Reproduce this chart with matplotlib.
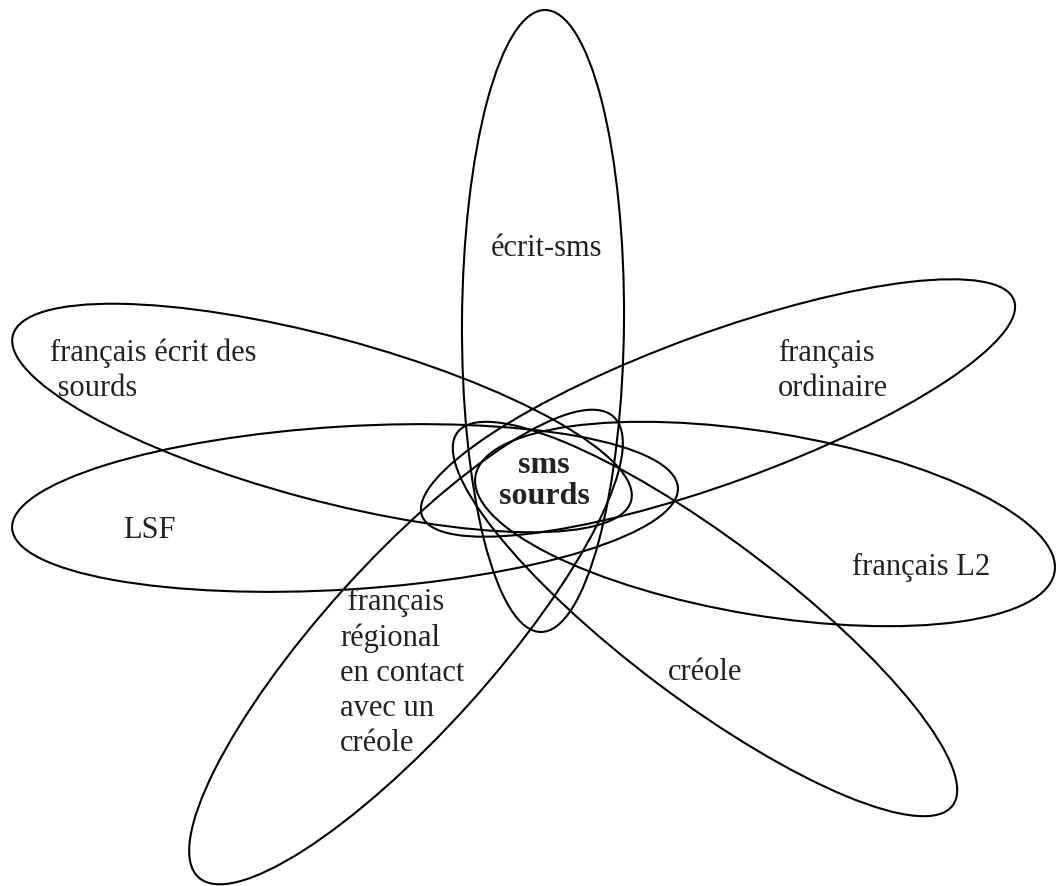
import matplotlib
matplotlib.use("Agg")
import matplotlib.pyplot as plt
from matplotlib.patches import Ellipse

# Petals: centre (pixel coords, y down), length, width, tilt in degrees
petal_names = ["écrit-sms", "français écrit des sourds", "LSF", "français ordinaire",
               "français L2", "créole", "français régional"]
petal_cx = [543, 322, 345, 718, 765, 705, 406]
petal_cy = [321, 418, 508, 408, 524, 619, 647]
petal_len = [622, 640, 667, 630, 587, 620, 620]
petal_wid = [162, 163, 163, 150, 183, 160, 170]
petal_angle = [90.4, 15, -3.5, -20, 9.4, 37, -48]

# Labels
label_text = ["écrit-sms", "français écrit des", " sourds", "LSF", "français\nordinaire",
              "français L2", "créole", " français\nrégional\nen contact\navec un\ncréole"]
label_x = [546, 50, 50, 123, 778, 852, 668, 340]
label_y = [248, 353, 388, 531, 371, 567, 672, 673]
label_ha = ["center", "left", "left", "left", "left", "left", "left", "left"]

plt.rcParams["font.family"] = ["Liberation Serif", "DejaVu Serif"]

fig = plt.figure(figsize=(10.56, 8.86), dpi=100)
ax = fig.add_axes([0, 0, 1, 1])
ax.set_xlim(0, 1056)
ax.set_ylim(886, 0)
ax.axis("off")

for cx, cy, ln, wd, ang in zip(petal_cx, petal_cy, petal_len, petal_wid, petal_angle):
    ax.add_patch(Ellipse((cx, cy), ln, wd, angle=ang, fill=False,
                         edgecolor="black", linewidth=1.5))

for t, x, y, ha in zip(label_text, label_x, label_y, label_ha):
    ax.text(x, y, t, ha=ha, va="center", fontsize=22, color="#222222",
            linespacing=1.27)

ax.text(544, 481, "sms\nsourds", ha="center", va="center", fontsize=23,
        fontweight="bold", color="#222222", linespacing=1.1)

fig.savefig("out.png", dpi=100)
